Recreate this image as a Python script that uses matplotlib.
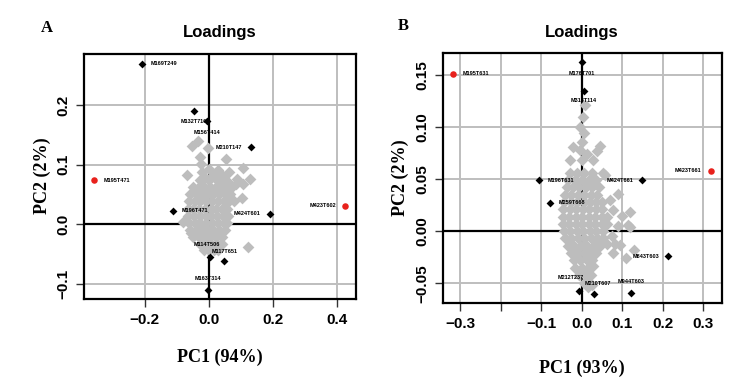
import matplotlib
matplotlib.use("Agg")
import matplotlib.pyplot as plt

# ---------------------------------------------------------------
#  Data (PCA loadings)
# ---------------------------------------------------------------
# Panel A — background loadings (grey cloud)
a_grey_x = [-0.035, -0.051, -0.003, -0.028, 0.055, -0.023, 0.108, -0.067, 0.029, 0.062,
            0.128, 0.088, 0.108, 0.103, -0.012, 0.000, 0.012, -0.020,
            -0.028, 0.000, 0.028, 0.059, 0.084, 0.045,
            -0.050, -0.032, -0.014, 0.004, 0.022, 0.040, 0.058, 0.072,
            -0.058, -0.040, -0.022, -0.004, 0.014, 0.032, 0.050, 0.066,
            -0.062, -0.044, -0.026, -0.008, 0.010, 0.028, 0.046, 0.062, 0.080,
            -0.066, -0.048, -0.030, -0.012, 0.006, 0.024, 0.042, 0.058,
            -0.064, -0.046, -0.028, -0.010, 0.008, 0.026, 0.044, 0.060,
            -0.062, -0.044, -0.026, -0.008, 0.010, 0.028, 0.046, 0.056,
            -0.058, -0.040, -0.022, -0.004, 0.014, 0.032, 0.050,
            -0.050, -0.032, -0.014, 0.004, 0.022, 0.040,
            -0.028, -0.010, 0.008, 0.026, 0.040,
            -0.016, 0.000, 0.016, 0.030,
            0.122, -0.056, -0.080]
a_grey_y = [0.140, 0.132, 0.128, 0.113, 0.109, 0.101, 0.095, 0.083, 0.091, 0.087,
            0.076, 0.076, 0.067, 0.044, 0.077, 0.092, 0.083, 0.088,
            0.074, 0.074, 0.072, 0.070, 0.068, 0.080,
            0.062, 0.062, 0.062, 0.062, 0.062, 0.062, 0.062, 0.062,
            0.050, 0.050, 0.050, 0.050, 0.050, 0.050, 0.050, 0.050,
            0.038, 0.038, 0.038, 0.038, 0.038, 0.038, 0.038, 0.038, 0.038,
            0.026, 0.026, 0.026, 0.026, 0.026, 0.026, 0.026, 0.026,
            0.014, 0.014, 0.014, 0.014, 0.014, 0.014, 0.014, 0.014,
            0.002, 0.002, 0.002, 0.002, 0.002, 0.002, 0.002, 0.002,
            -0.010, -0.010, -0.010, -0.010, -0.010, -0.010, -0.010,
            -0.022, -0.022, -0.022, -0.022, -0.022, -0.022,
            -0.034, -0.034, -0.034, -0.034, -0.034,
            -0.044, -0.044, -0.044, -0.044,
            -0.039, -0.015, 0.004]

# Panel A — highlighted loadings
a_black_names = ["M169T249", "M132T716", "M156T414", "M210T147", "M196T471",
                 "M424T601", "M114T506", "M117T651", "M163T314"]
a_black_x = [-0.209, -0.047, -0.006, 0.131, -0.112, 0.190, 0.003, 0.046, -0.003]
a_black_y = [0.270, 0.190, 0.173, 0.129, 0.022, 0.017, -0.055, -0.062, -0.111]
a_red_names = ["M195T471", "M423T602"]
a_red_x = [-0.358, 0.427]
a_red_y = [0.074, 0.031]

# Panel B — background loadings (grey cloud)
b_grey_x = [0.007, 0.002, -0.004, 0.006, 0.000, -0.022, -0.005, 0.044, 0.038, -0.030,
            0.000, 0.027, 0.012,
            -0.030, -0.012, 0.006, 0.024, 0.052,
            -0.035, -0.018, 0.000, 0.018, 0.036, 0.057,
            -0.038, -0.022, -0.006, 0.010, 0.026, 0.042,
            -0.042, -0.026, -0.010, 0.006, 0.022, 0.038,
            -0.044, -0.028, -0.012, 0.004, 0.020, 0.036, 0.050,
            -0.046, -0.030, -0.014, 0.002, 0.018, 0.034, 0.050,
            -0.047, -0.031, -0.015, 0.001, 0.017, 0.033, 0.049, 0.062,
            -0.047, -0.031, -0.015, 0.001, 0.017, 0.033, 0.049, 0.062,
            -0.045, -0.029, -0.013, 0.003, 0.019, 0.035, 0.051,
            -0.042, -0.026, -0.010, 0.006, 0.022, 0.038, 0.052,
            -0.035, -0.019, -0.003, 0.013, 0.029, 0.045,
            -0.028, -0.012, 0.004, 0.020, 0.036,
            -0.020, -0.004, 0.012, 0.026,
            -0.017, 0.000, 0.016,
            -0.008, 0.010, 0.022,
            0.005, 0.018,
            0.077, 0.118, 0.089, 0.118, 0.094, 0.077, 0.099, 0.114, 0.089, 0.074,
            0.062, 0.128, 0.109, 0.081, 0.027, 0.025, 0.015, 0.070]
b_grey_y = [0.121, 0.110, 0.100, 0.094, 0.086, 0.081, 0.078, 0.082, 0.077, 0.068,
            0.068, 0.068, 0.074,
            0.056, 0.056, 0.056, 0.056, 0.056,
            0.049, 0.049, 0.049, 0.049, 0.049, 0.054,
            0.042, 0.042, 0.042, 0.042, 0.042, 0.042,
            0.035, 0.035, 0.035, 0.035, 0.035, 0.035,
            0.028, 0.028, 0.028, 0.028, 0.028, 0.028, 0.028,
            0.021, 0.021, 0.021, 0.021, 0.021, 0.021, 0.021,
            0.014, 0.014, 0.014, 0.014, 0.014, 0.014, 0.014, 0.014,
            0.007, 0.007, 0.007, 0.007, 0.007, 0.007, 0.007, 0.007,
            0.000, 0.000, 0.000, 0.000, 0.000, 0.000, 0.000,
            -0.007, -0.007, -0.007, -0.007, -0.007, -0.007, -0.007,
            -0.014, -0.014, -0.014, -0.014, -0.014, -0.014,
            -0.021, -0.021, -0.021, -0.021, -0.021,
            -0.028, -0.028, -0.028, -0.028,
            -0.035, -0.035, -0.035,
            -0.042, -0.042, -0.042,
            -0.050, -0.050,
            0.020, 0.018, 0.036, 0.004, -0.013, -0.021, 0.015, 0.006, 0.005, -0.005,
            -0.012, -0.018, -0.026, -0.012, -0.033, -0.052, -0.054, 0.030]

# Panel B — highlighted loadings
b_black_names = ["M176T701", "M318T114", "M196T631", "M424T661", "M259T668",
                 "M843T603", "M944T603", "M210T607", "M212T237"]
b_black_x = [0.000, 0.005, -0.107, 0.149, -0.079, 0.213, 0.121, 0.030, -0.007]
b_black_y = [0.162, 0.135, 0.049, 0.049, 0.027, -0.024, -0.059, -0.060, -0.057]
b_red_names = ["M195T631", "M423T661"]
b_red_x = [-0.318, 0.318]
b_red_y = [0.151, 0.058]

# ---------------------------------------------------------------
#  Style
# ---------------------------------------------------------------
GRID = "#bebebe"
GREY_PT = "#bdbdbd"
TICK_FONT = ["Liberation Sans Narrow", "Liberation Sans", "DejaVu Sans"]
LBL_FONT = ["Liberation Sans", "DejaVu Sans"]
SERIF = ["Liberation Serif", "DejaVu Serif"]

# label placement: (dx, dy) in points, horizontal alignment
a_black_pos = [(6.5, 0, "left"), (0, -7.5, "center"), (0, -8, "center"), (-6.5, 0, "right"),
               (6.5, 0, "left"), (-6.5, 0, "right"), (-2, 8.5, "center"), (1, 6.5, "center"),
               (0, 8, "center")]
a_red_pos = [(6.5, 0, "left"), (-6.5, 0, "right")]
b_black_pos = [(0, -8, "center"), (0, -7.5, "center"), (6.5, 0, "left"), (-6.5, 0, "right"),
               (6.5, 0, "left"), (-6.5, 0, "right"), (0, 8, "center"), (3, 7, "center"),
               (-6, 9.5, "center")]
b_red_pos = [(6.5, 0, "left"), (-6.5, 0, "right")]


def draw_panel(ax, gx, gy, bx, by, bnames, bpos, rx, ry, rnames, rpos,
               xlim, ylim, xticks, xlabels, yticks, ylabels):
    ax.set_xlim(*xlim)
    ax.set_ylim(*ylim)
    ax.set_xticks(xticks)
    ax.set_xticklabels(xlabels)
    ax.set_yticks(yticks)
    ax.set_yticklabels(ylabels, rotation=90, va="center")
    ax.grid(True, color=GRID, lw=1.4, zorder=0)
    ax.set_axisbelow(True)
    ax.axhline(0, color="black", lw=1.6, zorder=1)
    ax.axvline(0, color="black", lw=1.6, zorder=1)
    ax.scatter(gx, gy, marker="D", s=36, color=GREY_PT, lw=0, zorder=2)
    ax.scatter(bx, by, marker="D", s=16, color="black", lw=0, zorder=3)
    ax.scatter(rx, ry, marker="o", s=22, color="#e8211c", lw=0, zorder=3)
    for names, xs, ys, pos in ((bnames, bx, by, bpos), (rnames, rx, ry, rpos)):
        for nm, x, y, (dx, dy, ha) in zip(names, xs, ys, pos):
            ax.annotate(nm, (x, y), xytext=(dx, dy), textcoords="offset points",
                        ha=ha, va="center", fontsize=4.0, fontweight="bold",
                        family=LBL_FONT, zorder=4)
    for sp in ax.spines.values():
        sp.set_linewidth(1.6)
    ax.tick_params(length=6, width=1.0, color="#333333", pad=4)
    for t in ax.get_xticklabels() + ax.get_yticklabels():
        t.set_family(TICK_FONT)
        t.set_fontweight("bold")
        t.set_fontsize(11)


fig = plt.figure(figsize=(7.5, 3.86), dpi=100)
W, H = 750.0, 386.0

axA = fig.add_axes([84 / W, 1 - 299 / H, (356 - 84) / W, (299 - 54) / H])
draw_panel(axA, a_grey_x, a_grey_y, a_black_x, a_black_y, a_black_names, a_black_pos,
           a_red_x, a_red_y, a_red_names, a_red_pos,
           (-0.39, 0.46), (-0.126, 0.286),
           [-0.2, 0.0, 0.2, 0.4], ["\u22120.2", "0.0", "0.2", "0.4"],
           [-0.1, 0.0, 0.1, 0.2], ["\u22120.1", "0.0", "0.1", "0.2"])

axB = fig.add_axes([443 / W, 1 - 303 / H, (722 - 443) / W, (303 - 53) / H])
draw_panel(axB, b_grey_x, b_grey_y, b_black_x, b_black_y, b_black_names, b_black_pos,
           b_red_x, b_red_y, b_red_names, b_red_pos,
           (-0.343, 0.346), (-0.069, 0.171),
           [-0.3, -0.2, -0.1, 0.0, 0.1, 0.2, 0.3],
           ["\u22120.3", "", "\u22120.1", "0.0", "0.1", "0.2", "0.3"],
           [-0.05, 0.0, 0.05, 0.10, 0.15],
           ["\u22120.05", "0.00", "0.05", "0.10", "0.15"])

# titles, panel letters, axis labels
fig.text(220 / W, 1 - 32 / H, "Loadings", ha="center", va="center",
         fontsize=12, fontweight="bold", family=LBL_FONT)
fig.text(582 / W, 1 - 32 / H, "Loadings", ha="center", va="center",
         fontsize=12, fontweight="bold", family=LBL_FONT)
fig.text(47 / W, 1 - 28 / H, "A", ha="center", va="center",
         fontsize=12, fontweight="bold", family=SERIF)
fig.text(403 / W, 1 - 26 / H, "B", ha="center", va="center",
         fontsize=12, fontweight="bold", family=SERIF)
fig.text(220 / W, 1 - 357 / H, "PC1 (94%)", ha="center", va="center",
         fontsize=13, fontweight="bold", family=SERIF)
fig.text(582 / W, 1 - 368 / H, "PC1 (93%)", ha="center", va="center",
         fontsize=13, fontweight="bold", family=SERIF)
fig.text(42 / W, 1 - 176 / H, "PC2 (2%)", ha="center", va="center", rotation=90,
         fontsize=13, fontweight="bold", family=SERIF)
fig.text(400 / W, 1 - 178 / H, "PC2 (2%)", ha="center", va="center", rotation=90,
         fontsize=13, fontweight="bold", family=SERIF)

fig.savefig("out.png", dpi=100)
